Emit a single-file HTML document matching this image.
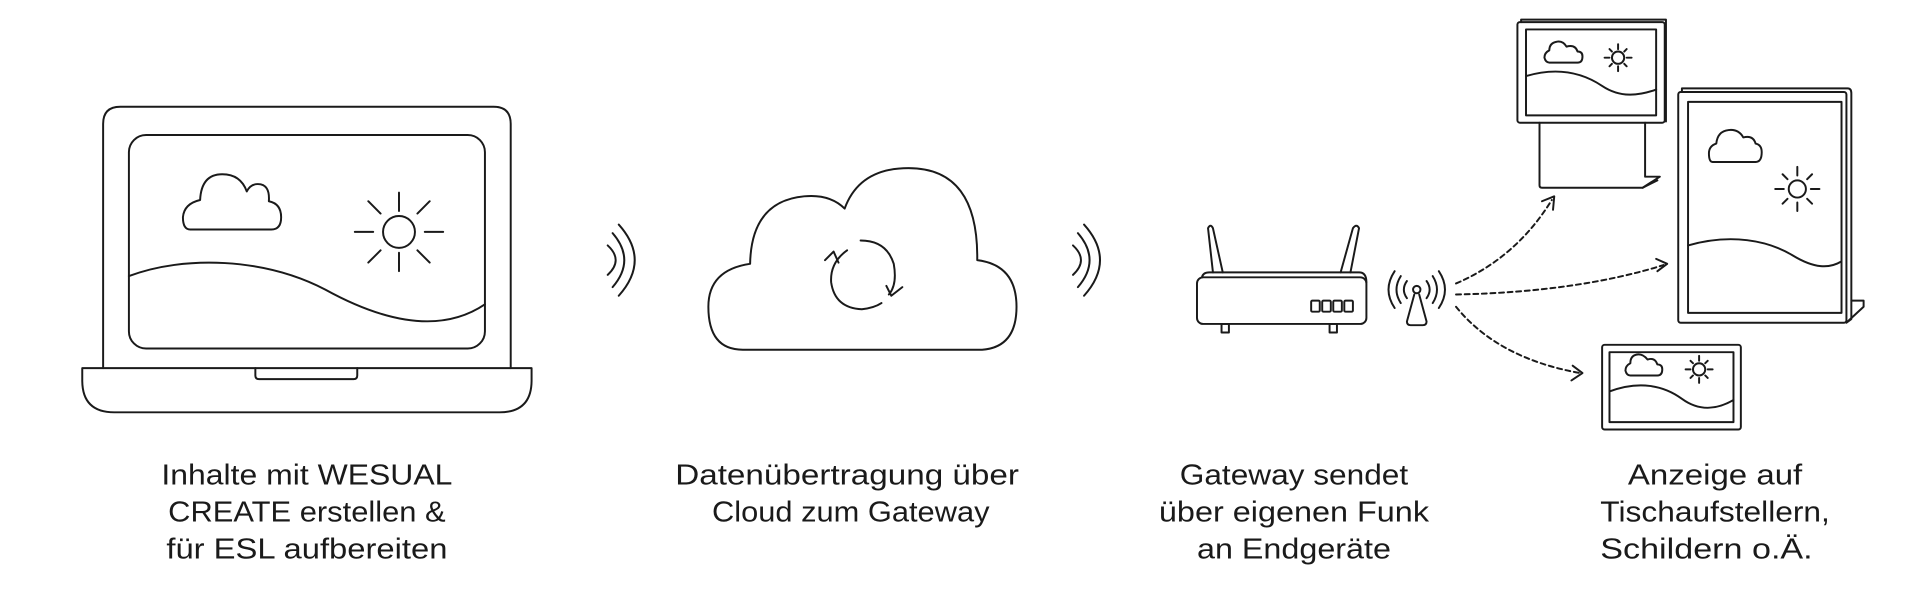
<!DOCTYPE html>
<html><head><meta charset="utf-8"><style>html,body{margin:0;padding:0;background:#fff}svg{display:block}</style></head>
<body>
<svg width="1925" height="589" viewBox="0 0 1568 480" preserveAspectRatio="none" xmlns="http://www.w3.org/2000/svg">
<g fill="none" stroke="#1a1a1a" stroke-width="1.6" stroke-linecap="round" stroke-linejoin="round">
  <!-- Laptop -->
  <path d="M84,300 V101 Q84,87 98,87 H402 Q416,87 416,101 V300"/>
  <rect x="105" y="110" width="290" height="174" rx="14"/>
  <path d="M67,300 H433 V310 Q433,336 407,336 H93 Q67,336 67,310 Z"/>
  <path d="M208,300 V306 Q208,309 211,309 H288 Q291,309 291,306 V300"/>
  <path d="M105,225 C150,208 215,210 265,236 C305,258 355,275 395,248"/>
  <path d="M155,187 H221 Q229,187 229,177 Q229,166 219,164 Q220,150 210,150 Q204,150 201,156 Q196,142 181,142 Q164,142 163,163 Q150,166 149,177 Q149,187 155,187 Z"/>
  <circle cx="325" cy="189" r="13"/>
  <path d="M325,157 V172 M325,206 V221 M289,189 H304 M346,189 H361 M300,164 L310,174 M340,204 L350,214 M350,164 L340,174 M310,204 L300,214"/>
  <!-- waves 1 -->
  <path d="M495,200 Q508,212 495,224 M499,190 Q518,212 499,234 M504,183 Q530,212 504,241"/>
  <!-- big cloud -->
  <path d="M605,285 H800 Q828,283 828,250 Q828,216 796,212 Q797,137 740,137 Q700,137 688,170 Q676,158 655,160 Q612,164 611,215 Q577,220 577,250 Q577,285 605,285 Z"/>
  <path d="M690,204 Q676,214 677,230 Q680,251 702,252 Q712,251 718,247"/>
  <path d="M672,212 L679,205 L683,214"/>
  <path d="M701,196 Q722,196 728,215 Q731,232 724,240"/>
  <path d="M735,234 L726,241 L722,233"/>
  <!-- waves 2 -->
  <path d="M874,200 Q887,212 874,224 M878,190 Q897,212 878,234 M883,183 Q909,212 883,241"/>
  <!-- router -->
  <rect x="975" y="226" width="138" height="38" rx="5"/>
  <path d="M979,226 Q980,222 985,222 H1107 Q1113,222 1113,230"/>
  <path d="M988,222 L984,186 Q986,182 988,186 L996,222"/>
  <path d="M1092,222 L1102,186 Q1105,182 1107,186 L1100,222"/>
  <rect x="995" y="264" width="6" height="7"/>
  <rect x="1083" y="264" width="6" height="7"/>
  <rect x="1068" y="245" width="7" height="9" rx="1"/>
  <rect x="1077" y="245" width="7" height="9" rx="1"/>
  <rect x="1086" y="245" width="7" height="9" rx="1"/>
  <rect x="1095" y="245" width="7" height="9" rx="1"/>
  <!-- antenna tower -->
  <circle cx="1154" cy="236" r="3"/>
  <path d="M1152,240 L1146,262 Q1146,265 1149,265 H1159 Q1162,265 1162,262 L1156,240"/>
  <path d="M1146,229 Q1141,236 1146,243 M1141,225 Q1134,236 1141,247 M1136,221 Q1126,236 1136,251 M1162,229 Q1167,236 1162,243 M1167,225 Q1174,236 1167,247 M1172,221 Q1182,236 1172,251"/>
  <!-- dashed arrows -->
  <g stroke-dasharray="4,3">
    <path d="M1186,231 Q1235,210 1264,163"/>
    <path d="M1186,240 Q1285,238 1355,216"/>
    <path d="M1186,250 Q1220,292 1287,304"/>
  </g>
  <path d="M1256,164 L1266,160 L1265,171"/>
  <path d="M1349,211 L1358,215 L1350,221"/>
  <path d="M1281,298 L1289,304 L1280,310"/>
  <!-- top device -->
  <rect x="1236" y="18" width="120" height="82" rx="2"/>
  <path d="M1239,18 V16 H1357 V99"/>
  <rect x="1243" y="24" width="106" height="70"/>
  <path d="M1254,100 V151 Q1254,153 1256,153 H1338 L1352,144 H1340 V100"/>
  <path d="M1338,153 L1350,147"/>
  <path d="M1243,62 C1270,54 1290,60 1305,70 C1320,80 1335,78 1349,73"/>
  <path d="M1262,51 H1285 Q1289,51 1289,46 Q1289,42 1285,42 Q1283,36 1276,38 Q1273,33 1268,34 Q1262,35 1262,41 Q1258,43 1258,47 Q1259,51 1262,51 Z"/>
  <circle cx="1318" cy="47" r="5"/>
  <path d="M1318,36 V40 M1318,54 V58 M1307,47 H1311 M1325,47 H1329 M1311,40 L1313,42 M1323,52 L1325,54 M1325,40 L1323,42 M1313,52 L1311,54"/>
  <!-- big device -->
  <rect x="1367" y="75" width="137" height="188" rx="2"/>
  <path d="M1370,75 V72 H1505 Q1508,72 1508,76 V260 L1504,263"/>
  <rect x="1375" y="83" width="125" height="172"/>
  <path d="M1508,245 H1518 V250 L1505,262"/>
  <path d="M1375,200 C1410,190 1440,196 1460,208 C1478,219 1490,219 1500,213"/>
  <path d="M1395,132 H1430 Q1435,132 1435,124 Q1435,118 1430,117 Q1428,110 1420,112 Q1416,105 1408,106 Q1399,107 1398,117 Q1392,119 1392,125 Q1392,132 1395,132 Z"/>
  <circle cx="1464" cy="154" r="7"/>
  <path d="M1464,136 V143 M1464,165 V172 M1446,154 H1453 M1475,154 H1482 M1452,142 L1456,146 M1472,162 L1476,166 M1476,142 L1472,146 M1456,162 L1452,166"/>
  <!-- small device -->
  <rect x="1305" y="281" width="113" height="69" rx="2"/>
  <rect x="1311" y="287" width="101" height="57"/>
  <path d="M1311,319 C1335,310 1355,314 1370,325 C1385,336 1400,333 1412,326"/>
  <path d="M1328,306 H1350 Q1354,306 1354,301 Q1354,297 1350,297 Q1348,291 1342,293 Q1338,288 1333,289 Q1328,290 1328,296 Q1324,298 1324,302 Q1325,306 1328,306 Z"/>
  <circle cx="1384" cy="301" r="5"/>
  <path d="M1384,290 V294 M1384,308 V312 M1373,301 H1377 M1391,301 H1395 M1377,294 L1379,296 M1389,306 L1391,308 M1391,294 L1389,296 M1379,306 L1377,308"/>
</g>
<g font-family="'Liberation Sans', sans-serif" font-size="23" fill="#1a1a1a" text-anchor="middle">
  <text x="250" y="395" textLength="237" lengthAdjust="spacingAndGlyphs">Inhalte mit WESUAL</text>
  <text x="250" y="425" textLength="226" lengthAdjust="spacingAndGlyphs">CREATE erstellen &amp;</text>
  <text x="250" y="455" textLength="229" lengthAdjust="spacingAndGlyphs">für ESL aufbereiten</text>
  <text x="690" y="395" textLength="280" lengthAdjust="spacingAndGlyphs">Datenübertragung über</text>
  <text x="693" y="425" textLength="226" lengthAdjust="spacingAndGlyphs">Cloud zum Gateway</text>
  <text x="1054" y="395" textLength="186" lengthAdjust="spacingAndGlyphs">Gateway sendet</text>
  <text x="1054" y="425" textLength="220" lengthAdjust="spacingAndGlyphs">über eigenen Funk</text>
  <text x="1054" y="455" textLength="158" lengthAdjust="spacingAndGlyphs">an Endgeräte</text>
  <text x="1397" y="395" textLength="142" lengthAdjust="spacingAndGlyphs">Anzeige auf</text>
  <text x="1397" y="425" textLength="187" lengthAdjust="spacingAndGlyphs">Tischaufstellern,</text>
  <text x="1390" y="455" textLength="173" lengthAdjust="spacingAndGlyphs">Schildern o.Ä.</text>
</g>
</svg>
</body></html>
